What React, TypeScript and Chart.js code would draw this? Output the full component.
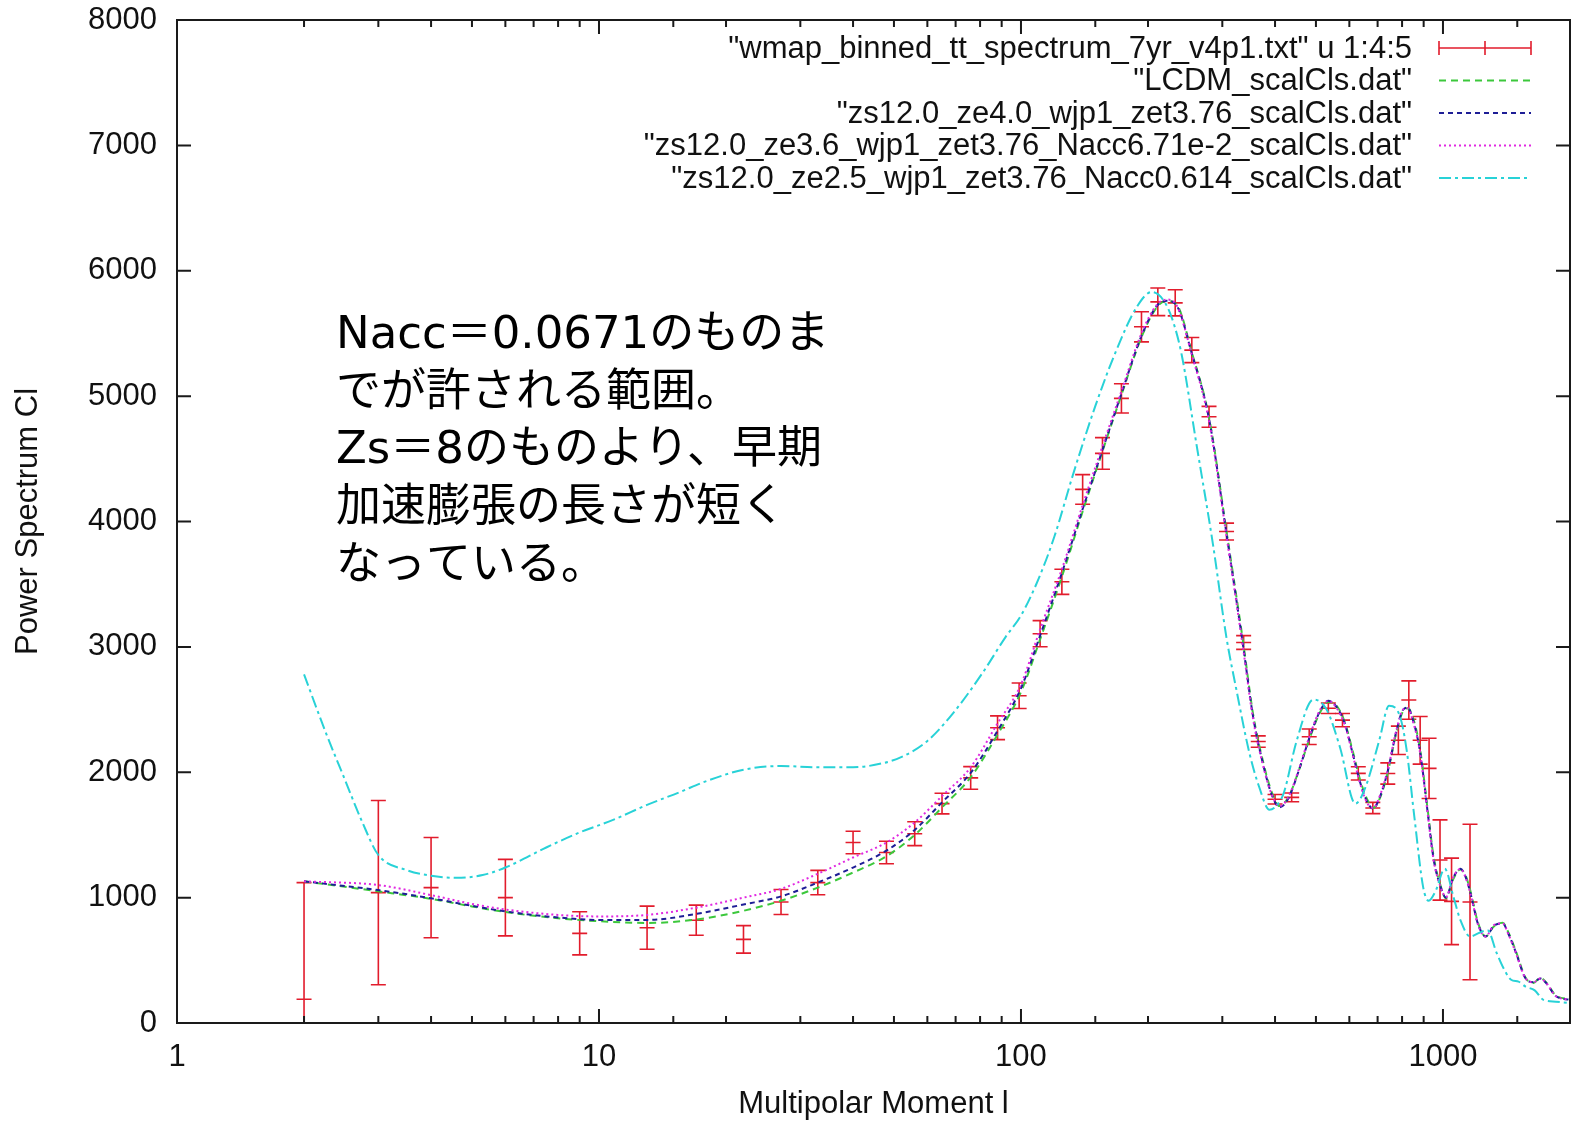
import React, { useEffect, useRef } from 'react';
import { Chart, registerables } from 'chart.js';

Chart.register(...registerables);

// ---- WMAP 7yr binned TT spectrum (l, Cl, error) ----
const WMAP_L = [2, 3, 4, 6, 9, 13, 17, 22, 27, 33, 40, 48, 56, 65, 76, 88, 99, 111, 125, 140, 156, 173, 193, 211, 232, 254, 279, 307, 337, 365, 400, 438, 482, 535, 578, 630, 682, 740, 784, 830, 883, 927, 984, 1048, 1159];
const WMAP_CL = [190, 1040, 1080, 1000, 715, 760, 820, 667, 965, 1120, 1440, 1360, 1510, 1750, 1955, 2355, 2610, 3105, 3519, 4256, 4543, 4982, 5553, 5752, 5744, 5367, 4835, 3920, 3035, 2245, 1785, 1800, 2283, 2510, 2416, 1991, 1715, 1990, 2255, 2576, 2255, 2031, 1300, 970, 965];
const WMAP_ERR = [930, 735, 400, 305, 172, 172, 120, 110, 100, 97, 90, 90, 95, 82, 90, 95, 102, 104, 100, 118, 126, 117, 120, 110, 104, 100, 83, 67, 55, 45, 38, 35, 62, 42, 53, 53, 45, 85, 113, 153, 190, 240, 320, 345, 620];

// ---- Model spectra sampled at multipoles ----
const MODEL_L = [2, 3, 4, 5, 6, 8, 10, 13, 17, 22, 27, 33, 40, 48, 56, 65, 76, 88, 100, 111, 125, 140, 156, 173, 193, 210, 222, 235, 254, 279, 307, 336, 355, 375, 392, 410, 430, 455, 482, 510, 535, 560, 585, 610, 635, 660, 683, 710, 740, 776, 805, 825, 850, 883, 920, 950, 984, 1017, 1055, 1100, 1130, 1160, 1212, 1262, 1320, 1385, 1430, 1486, 1570, 1640, 1700, 1760, 1850, 2000];
const LCDM_CL = [1130, 1050, 990, 930, 885, 835, 812, 798, 825, 895, 975, 1080, 1200, 1330, 1500, 1720, 1960, 2300, 2640, 3060, 3560, 4080, 4560, 5010, 5470, 5710, 5760, 5720, 5350, 4830, 3920, 3040, 2460, 2080, 1850, 1730, 1800, 2010, 2260, 2470, 2560, 2530, 2400, 2180, 1950, 1790, 1715, 1800, 2000, 2320, 2490, 2510, 2430, 2180, 1700, 1330, 1110, 995, 1140, 1225, 1180, 1060, 795, 690, 770, 800, 720, 580, 360, 320, 360, 320, 220, 190];
const ZE40_CL = [1130, 1060, 995, 935, 890, 842, 822, 822, 870, 945, 1010, 1120, 1240, 1375, 1540, 1760, 1995, 2330, 2670, 3090, 3590, 4100, 4570, 5020, 5480, 5720, 5760, 5710, 5340, 4820, 3900, 3010, 2440, 2060, 1830, 1720, 1790, 2010, 2270, 2480, 2570, 2520, 2390, 2160, 1930, 1770, 1710, 1810, 2010, 2330, 2500, 2515, 2410, 2160, 1680, 1310, 1100, 1000, 1150, 1230, 1170, 1045, 785, 690, 775, 795, 710, 570, 355, 325, 355, 315, 215, 185];
const ZE36_CL = [1130, 1100, 1020, 950, 905, 862, 850, 862, 920, 1000, 1070, 1190, 1320, 1440, 1600, 1810, 2040, 2390, 2700, 3140, 3620, 4130, 4600, 5040, 5500, 5730, 5770, 5710, 5330, 4800, 3880, 2990, 2420, 2050, 1830, 1730, 1800, 2020, 2280, 2490, 2570, 2510, 2380, 2150, 1920, 1760, 1715, 1820, 2020, 2340, 2500, 2510, 2400, 2150, 1670, 1300, 1100, 1005, 1155, 1230, 1165, 1040, 780, 690, 780, 795, 705, 565, 355, 325, 355, 315, 215, 185];
const ZE25_L = [2, 2.25, 2.5, 2.75, 3, 3.5, 4, 4.6, 5.3, 6, 7.5, 9, 10.8, 13, 15.5, 18, 22, 27, 33, 40, 46, 52, 60, 69, 81, 92, 100, 110, 120, 133, 150, 168, 188, 204, 217, 228, 240, 261, 285, 307, 323, 348, 367, 388, 405, 420, 450, 493, 530, 570, 620, 655, 707, 745, 790, 820, 855, 898, 925, 960, 1010, 1060, 1100, 1160, 1220, 1275, 1340, 1400, 1450, 1510, 1570, 1650, 1730, 1850, 2000];
const ZE25_CL = [2780, 2320, 1940, 1600, 1340, 1220, 1175, 1158, 1180, 1240, 1400, 1520, 1620, 1740, 1840, 1930, 2020, 2050, 2040, 2040, 2065, 2120, 2250, 2470, 2790, 3080, 3250, 3540, 3880, 4380, 4920, 5360, 5710, 5830, 5770, 5620, 5340, 4600, 3820, 3070, 2680, 2150, 1880, 1700, 1740, 1840, 2250, 2580, 2500, 2200, 1750, 1880, 2260, 2530, 2450, 2180, 1650, 1080, 975, 1050, 1230, 1000, 820, 690, 720, 740, 560, 420, 345, 330, 290, 260, 185, 170, 160];

const SERIES_LABELS = [
  '"wmap_binned_tt_spectrum_7yr_v4p1.txt" u 1:4:5',
  '"LCDM_scalCls.dat"',
  '"zs12.0_ze4.0_wjp1_zet3.76_scalCls.dat"',
  '"zs12.0_ze3.6_wjp1_zet3.76_Nacc6.71e-2_scalCls.dat"',
  '"zs12.0_ze2.5_wjp1_zet3.76_Nacc0.614_scalCls.dat"',
];
const Y_TICK_STEP = 1000;
const NOTE_LINES = [
  'Nacc＝0.0671のものま',
  'でが許される範囲。',
  'Zs＝8のものより、早期',
  '加速膨張の長さが短く',
  'なっている。',
];

const SANS = "'Liberation Sans', Arial, Helvetica, sans-serif";
const RED = 'rgb(226,28,44)';

const isMajor = (v: number) => {
  const lg = Math.log10(v);
  return Math.abs(lg - Math.round(lg)) < 1e-6;
};

const errorBarPlugin = {
  id: 'errorBars',
  beforeDatasetsDraw(chart: any) {
    const { ctx, chartArea, scales } = chart;
    const xs = scales.x, ys = scales.y;
    ctx.save();
    ctx.beginPath();
    ctx.rect(chartArea.left, chartArea.top, chartArea.right - chartArea.left, chartArea.bottom - chartArea.top);
    ctx.clip();
    chart.data.datasets.forEach((ds: any) => {
      if (!ds.errorBars) return;
      ctx.strokeStyle = ds.borderColor;
      ctx.lineWidth = 1.6;
      ds.data.forEach((d: any) => {
        const px = xs.getPixelForValue(d.x);
        const py = ys.getPixelForValue(d.y);
        const lo = ys.getPixelForValue(d.yMin);
        const hi = ys.getPixelForValue(d.yMax);
        const c = 7.5;
        ctx.beginPath();
        ctx.moveTo(px, lo); ctx.lineTo(px, hi);
        ctx.moveTo(px - c, lo); ctx.lineTo(px + c, lo);
        ctx.moveTo(px - c, hi); ctx.lineTo(px + c, hi);
        ctx.moveTo(px - c, py); ctx.lineTo(px + c, py);
        ctx.stroke();
      });
    });
    ctx.restore();
  },
};

const framePlugin = {
  id: 'frame',
  afterDatasetsDraw(chart: any) {
    const { ctx, chartArea, scales } = chart;
    const { left, right, top, bottom } = chartArea;
    const xs = scales.x, ys = scales.y;
    ctx.save();
    ctx.strokeStyle = '#1a1a1a';
    ctx.lineWidth = 2;
    ctx.strokeRect(left, top, right - left, bottom - top);
    ctx.beginPath();
    xs.ticks.forEach((t: any) => {
      const px = xs.getPixelForValue(t.value);
      if (px <= left + 1 || px >= right - 1) return;
      const len = isMajor(t.value) ? 14 : 7;
      ctx.moveTo(px, bottom); ctx.lineTo(px, bottom - len);
      ctx.moveTo(px, top); ctx.lineTo(px, top + len);
    });
    ys.ticks.forEach((t: any) => {
      const py = ys.getPixelForValue(t.value);
      if (py <= top + 1 || py >= bottom - 1) return;
      ctx.moveTo(left, py); ctx.lineTo(left + 14, py);
      ctx.moveTo(right, py); ctx.lineTo(right - 14, py);
    });
    ctx.stroke();
    ctx.restore();
  },
};

const keyPlugin = {
  id: 'gnuKey',
  afterDraw(chart: any) {
    const { ctx } = chart;
    const textRight = 1412;
    const x1 = 1439, x2 = 1531;
    const top = 48, step = 32.5;
    ctx.save();
    ctx.font = `31px ${SANS}`;
    ctx.textAlign = 'right';
    ctx.textBaseline = 'middle';
    chart.data.datasets.forEach((ds: any, i: number) => {
      const yy = top + i * step;
      ctx.fillStyle = '#111';
      ctx.fillText(ds.label, textRight, yy + 1);
      ctx.strokeStyle = ds.borderColor;
      if (ds.errorBars) {
        ctx.lineWidth = 1.6;
        ctx.setLineDash([]);
        ctx.beginPath();
        ctx.moveTo(x1, yy); ctx.lineTo(x2, yy);
        ctx.moveTo(x1, yy - 7); ctx.lineTo(x1, yy + 7);
        ctx.moveTo(x2, yy - 7); ctx.lineTo(x2, yy + 7);
        const xm = (x1 + x2) / 2;
        ctx.moveTo(xm, yy - 7); ctx.lineTo(xm, yy + 7);
        ctx.stroke();
      } else {
        ctx.lineWidth = ds.borderWidth;
        ctx.setLineDash(ds.borderDash || []);
        ctx.beginPath();
        ctx.moveTo(x1, yy); ctx.lineTo(x2, yy);
        ctx.stroke();
      }
    });
    ctx.restore();
  },
};

const notePlugin = {
  id: 'note',
  afterDraw(chart: any) {
    const { ctx } = chart;
    ctx.save();
    ctx.font = `45px "DejaVu Sans", "Noto Sans CJK JP", sans-serif`;
    ctx.fillStyle = '#000';
    ctx.textAlign = 'left';
    ctx.textBaseline = 'alphabetic';
    NOTE_LINES.forEach((line, i) => {
      ctx.fillText(line, 336, 348 + i * 57.7);
    });
    ctx.restore();
  },
};

export default function App() {
  const ref = useRef<HTMLCanvasElement>(null);

  useEffect(() => {
    const canvas = ref.current;
    if (!canvas) return;
    const wmapData = WMAP_L.map((l, i) => ({
      x: l,
      y: WMAP_CL[i],
      yMin: WMAP_CL[i] - WMAP_ERR[i],
      yMax: WMAP_CL[i] + WMAP_ERR[i],
    }));
    const toPts = (ls: number[], vs: number[]) => ls.map((l, i) => ({ x: l, y: vs[i] }));
    const curve = (label: string, ls: number[], vs: number[], color: string, dash: number[], order: number) => ({
      label,
      data: toPts(ls, vs),
      borderColor: color,
      backgroundColor: color,
      borderWidth: 2,
      borderDash: dash,
      pointRadius: 0,
      fill: false,
      cubicInterpolationMode: 'monotone',
      order,
    });

    const chart = new Chart(canvas, {
      type: 'line',
      data: {
        datasets: [
          {
            label: SERIES_LABELS[0],
            data: wmapData,
            borderColor: RED,
            backgroundColor: RED,
            showLine: false,
            pointRadius: 0,
            errorBars: true,
            order: 5,
          } as any,
          curve(SERIES_LABELS[1], MODEL_L, LCDM_CL, 'rgb(60,200,60)', [7, 5], 4),
          curve(SERIES_LABELS[2], MODEL_L, ZE40_CL, 'rgb(30,30,150)', [5, 4], 3),
          curve(SERIES_LABELS[3], MODEL_L, ZE36_CL, 'rgb(225,40,225)', [2, 3], 2),
          curve(SERIES_LABELS[4], ZE25_L, ZE25_CL, 'rgb(40,210,215)', [12, 4, 3, 4], 1),
        ],
      },
      options: {
        responsive: false,
        animation: false,
        devicePixelRatio: 1,
        layout: { padding: { top: 20, right: 4, left: 0, bottom: 0 } },
        plugins: {
          legend: { display: false },
          tooltip: { enabled: false },
        },
        scales: {
          x: {
            type: 'logarithmic',
            min: 1,
            max: 2000,
            grid: { display: false, drawTicks: false },
            border: { display: false },
            ticks: {
              autoSkip: false,
              maxRotation: 0,
              minRotation: 0,
              padding: 16,
              color: '#111',
              font: { size: 31, family: SANS },
              callback: (v: any) => (isMajor(Number(v)) ? String(Math.round(Number(v))) : ''),
            },
            title: {
              display: true,
              text: 'Multipolar Moment l',
              color: '#111',
              font: { size: 31, family: SANS },
              padding: { top: 0, bottom: 0 },
            },
            afterFit: (s: any) => {
              s.height = 100;
              s.paddingLeft = 0;
              s.paddingRight = 0;
            },
          },
          y: {
            type: 'linear',
            min: 0,
            max: 8000,
            grid: { display: false, drawTicks: false },
            border: { display: false },
            ticks: {
              stepSize: Y_TICK_STEP,
              padding: 20,
              color: '#111',
              font: { size: 31, family: SANS },
              callback: (v: any) => String(v),
            },
            title: {
              display: true,
              text: 'Power Spectrum Cl',
              color: '#111',
              font: { size: 31, family: SANS },
              padding: { top: 10, bottom: 0 },
            },
            afterFit: (s: any) => {
              s.width = 177;
              s.paddingTop = 0;
              s.paddingBottom = 0;
            },
          },
        },
      } as any,
      plugins: [errorBarPlugin, framePlugin, keyPlugin, notePlugin],
    });

    return () => chart.destroy();
  }, []);

  return (
    <div style={{ position: 'absolute', left: 0, top: 0, width: 1574, height: 1123, background: '#fff' }}>
      <canvas ref={ref} width={1574} height={1123} style={{ display: 'block', width: 1574, height: 1123 }} />
    </div>
  );
}
